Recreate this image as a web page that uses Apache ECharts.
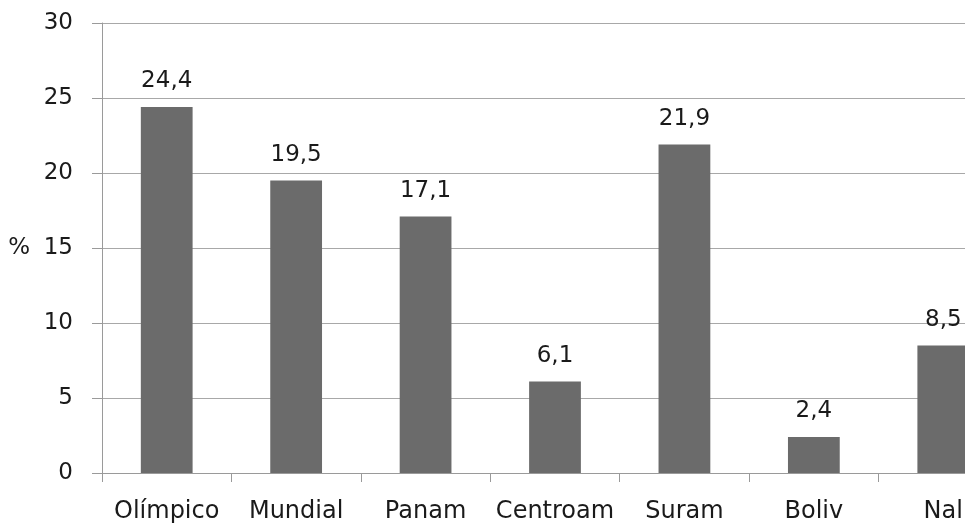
<!DOCTYPE html>
<html>
<head>
<meta charset="utf-8">
<script src="https://cdn.jsdelivr.net/npm/echarts@6/dist/echarts.min.js"></script>
<style>html,body{margin:0;padding:0;background:#fff}#c{width:965px;height:523px}</style>
</head>
<body>
<div id="c"></div>
<script>
const categories = ['Olímpico', 'Mundial', 'Panam', 'Centroam', 'Suram', 'Boliv', 'Nal'];
const values = [24.4, 19.5, 17.1, 6.1, 21.9, 2.4, 8.5];
const yTicks = { min: 0, max: 30, interval: 5 };
const yName = '%';

const font = '"DejaVu Sans", sans-serif';
const chart = echarts.init(document.getElementById('c'));
chart.setOption({
  animation: false,
  backgroundColor: '#fff',
  grid: { left: 102, top: 23, bottom: 50, right: -43, containLabel: false, outerBoundsMode: 'none' },
  xAxis: {
    type: 'category',
    data: categories,
    axisLine: { lineStyle: { color: '#9a9a9a', width: 1 } },
    axisTick: { show: true, length: 9, lineStyle: { color: '#9a9a9a' } },
    axisLabel: { margin: 27, color: '#1a1a1a', fontSize: 24, fontFamily: font, interval: 0 }
  },
  yAxis: {
    type: 'value',
    min: yTicks.min, max: yTicks.max, interval: yTicks.interval,
    name: yName,
    nameLocation: 'middle',
    nameRotate: 0,
    nameGap: 72,
    nameTextStyle: { color: '#1a1a1a', fontSize: 23, fontFamily: font, padding: [4, 0, 0, 0] },
    axisLine: { show: true, lineStyle: { color: '#9a9a9a', width: 1 } },
    axisTick: { show: true, length: 10, lineStyle: { color: '#9a9a9a' } },
    splitLine: { lineStyle: { color: '#a8a8a8', width: 1 } },
    axisLabel: { margin: 29, color: '#1a1a1a', fontSize: 23, fontFamily: font, padding: [4, 0, 0, 0] }
  },
  series: [{
    type: 'bar',
    data: values,
    barWidth: '40%',
    itemStyle: { color: '#6b6b6b' },
    label: {
      show: true,
      position: 'top',
      distance: 14,
      color: '#1a1a1a',
      fontSize: 23,
      fontFamily: font,
      formatter: p => String(p.value).replace('.', ',')
    }
  }]
});
</script>
</body>
</html>
